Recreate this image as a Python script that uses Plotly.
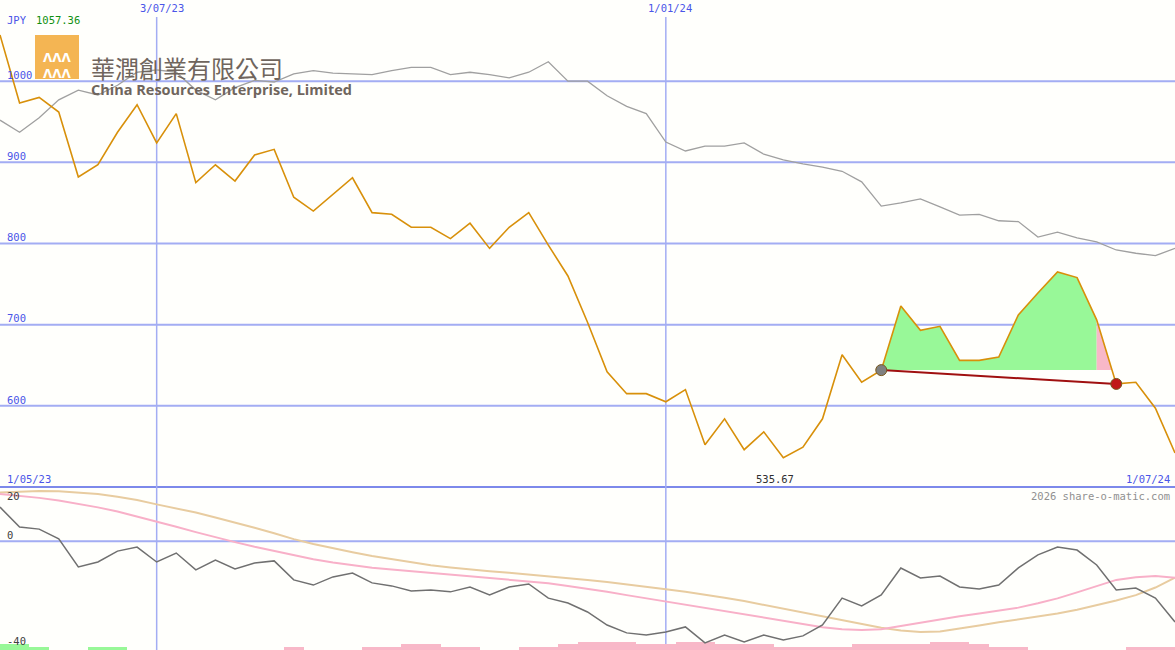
import pandas as pd
import plotly.graph_objects as go

# weekly closes, JPY
dates = pd.date_range("2023-05-08", periods=61, freq="7D")
price = [1057, 973, 980, 962, 882, 897, 937, 971, 924, 960, 875, 897, 877, 909, 916, 857,
         840, 861, 881, 838, 836, 820, 820, 806, 825, 794, 820, 838, 798, 760, 703, 642,
         615, 615, 605, 620, 552, 584, 546, 568, 536, 549, 584, 663, 629, 644, 723, 693,
         698, 656, 656, 660, 712, 739, 765, 758, 706, 627, 629, 597, 542]
# comparison index (rebased)
index_line = [952, 937, 955, 977, 989, 983, 995, 1011, 1014, 1011, 989, 977, 992, 1001, 999, 1009,
              1013, 1010, 1009, 1008, 1013, 1017, 1017, 1008, 1011, 1008, 1004, 1011, 1024, 1000, 1000, 982,
              969, 960, 925, 914, 920, 920, 924, 910, 903, 898, 894, 889, 876, 846, 850, 855,
              845, 835, 836, 828, 827, 808, 814, 807, 802, 792, 788, 785, 794]
# lower panel oscillator + averages
osc = [12.6, 5.3, 4.5, 0.9, -9.4, -7.6, -3.6, -2.1, -7.6, -4.3, -10.5, -6.9, -10.2, -8.0, -7.2, -14.2,
       -16.1, -13.1, -11.7, -15.3, -16.4, -18.3, -17.9, -18.6, -16.8, -19.7, -16.8, -15.7, -20.9, -22.7, -26.0, -30.8,
       -33.7, -34.5, -33.4, -31.5, -37.4, -34.5, -37.0, -34.5, -36.3, -34.8, -30.8, -20.9, -23.8, -19.7, -9.8, -13.5,
       -12.8, -16.8, -17.5, -16.1, -9.8, -5.0, -2.1, -3.2, -8.7, -17.9, -17.2, -20.9, -29.7]
avg_fast = [17.4, 16.8, 16.0, 15.0, 13.8, 12.5, 11.0, 9.2, 7.2, 5.4, 3.4, 1.5, -0.3, -2.0, -3.6, -5.0,
            -6.6, -7.8, -8.8, -9.7, -10.4, -11.0, -11.6, -12.2, -12.8, -13.4, -14.0, -14.6, -15.4, -16.4, -17.4, -18.6,
            -19.8, -21.0, -22.2, -23.4, -24.6, -25.8, -27.0, -28.2, -29.4, -30.6, -31.6, -32.4, -32.6, -32.4, -31.2, -29.8,
            -28.6, -27.6, -26.6, -25.6, -24.4, -22.8, -21.0, -18.8, -16.4, -14.2, -13.2, -12.8, -13.4]
avg_slow = [18.0, 18.3, 18.5, 18.4, 18.0, 17.4, 16.4, 15.2, 13.6, 12.2, 10.6, 8.8, 7.0, 5.0, 3.0, 0.8,
            -1.0, -2.6, -4.0, -5.4, -6.6, -7.8, -8.8, -9.6, -10.4, -11.0, -11.6, -12.2, -12.8, -13.4, -14.2, -15.0,
            -15.8, -16.6, -17.6, -18.6, -19.6, -20.8, -22.0, -23.4, -24.8, -26.2, -27.6, -29.0, -30.4, -31.8, -32.8, -33.4,
            -33.2, -32.2, -31.0, -29.8, -28.8, -27.8, -26.6, -25.2, -23.6, -21.8, -19.8, -17.0, -13.4]
hist = [2.2, 2.2, 1.1, 0, 0, 1.1, 1.1, 0, 0, 0, 0, 0, 0, 0, 0, -1.1,
        0, 0, 0, -1.1, -1.1, -2.2, -2.2, -1.1, -1.1, 0, 0, -1.1, -1.1, -2.2, -3.0, -3.0,
        -3.0, -2.2, -2.2, -3.0, -3.0, -2.2, -2.2, -2.2, -1.1, -1.1, -1.1, -1.1, -2.2, -2.2, -2.2, -2.2,
        -3.0, -3.0, -2.2, -1.1, -1.1, 0, 0, 0, 0, 0, -1.1, -1.1, -1.1]

neck_start, neck_end = 45, 57
neck_lo = 644

BLUE = "#4a55e8"
GRID = "#a3adf3"

fig = go.Figure()

# pattern fills
gx = list(dates[neck_start:neck_end]) + [dates[neck_end - 1], dates[neck_start]]
gy = price[neck_start:neck_end] + [neck_lo, neck_lo]
fig.add_trace(go.Scatter(x=gx, y=gy, fill="toself", fillcolor="#98f898", mode="none", hoverinfo="skip"))
frac = (price[56] - neck_lo) / (price[56] - price[57])
cross = dates[56] + (dates[57] - dates[56]) * frac
fig.add_trace(go.Scatter(x=[dates[56], cross, dates[56]], y=[price[56], neck_lo, neck_lo],
                         fill="toself", fillcolor="#f8b8c8", mode="none", hoverinfo="skip"))

fig.add_trace(go.Scatter(x=dates, y=index_line, mode="lines", line=dict(color="#a0a0a0", width=1.3)))
fig.add_trace(go.Scatter(x=dates, y=price, mode="lines", line=dict(color="#d8900a", width=1.6)))
fig.add_trace(go.Scatter(x=[dates[neck_start], dates[neck_end]], y=[neck_lo, price[neck_end]],
                         mode="lines", line=dict(color="#a01010", width=2)))
fig.add_trace(go.Scatter(x=[dates[neck_start], dates[neck_end]], y=[neck_lo, price[neck_end]],
                         mode="markers", marker=dict(size=11, color=["#808080", "#c01818"],
                                                     line=dict(color="#7a5a20", width=1))))

# lower panel
fig.add_trace(go.Bar(x=dates, y=[abs(h) for h in hist], base=-40, yaxis="y2",
                     marker=dict(color=["#98f898" if h > 0 else "#f8b8c8" for h in hist], line_width=0),
                     width=7 * 24 * 3600 * 1000))
fig.add_trace(go.Scatter(x=dates, y=avg_slow, yaxis="y2", mode="lines", line=dict(color="#e8cca0", width=2)))
fig.add_trace(go.Scatter(x=dates, y=avg_fast, yaxis="y2", mode="lines", line=dict(color="#f8b0c8", width=2)))
fig.add_trace(go.Scatter(x=dates, y=osc, yaxis="y2", mode="lines", line=dict(color="#707070", width=1.5)))

split = 1 - 487 / 650
shapes = []
for v in [600, 700, 800, 900, 1000]:
    shapes.append(dict(type="line", xref="paper", x0=0, x1=1, yref="y", y0=v, y1=v,
                       line=dict(color=GRID, width=2), layer="below"))
shapes.append(dict(type="line", xref="paper", x0=0, x1=1, yref="y2", y0=0, y1=0,
                   line=dict(color=GRID, width=2), layer="below"))
shapes.append(dict(type="line", xref="paper", x0=0, x1=1, yref="paper", y0=split, y1=split,
                   line=dict(color="#7d89ea", width=2), layer="below"))
for d in ["2023-07-03", "2024-01-01"]:
    shapes.append(dict(type="line", xref="x", x0=d, x1=d, yref="paper", y0=0, y1=1 - 17 / 650,
                       line=dict(color=GRID, width=1.5), layer="below"))
# logo block
shapes.append(dict(type="rect", xref="paper", yref="paper", x0=35 / 1175, x1=79 / 1175,
                   y0=1 - 79 / 650, y1=1 - 35 / 650, fillcolor="#f4b553", line_width=0))

mono = "DejaVu Sans Mono"
ann = []
def txt(x, y, s, color, size=11, anchor="left", family=mono, yanchor="middle"):
    ann.append(dict(xref="paper", yref="paper", x=x / 1175, y=1 - y / 650, text=s, showarrow=False,
                    xanchor=anchor, yanchor=yanchor, font=dict(family=family, size=size, color=color)))

for v, yp in [(1000, 75), (900, 156), (800, 237), (700, 318), (600, 400)]:
    txt(5, yp, str(v), BLUE, 10.5)
txt(5, 496, "20", "#404040", 10.5)
txt(5, 535, "0", "#404040", 10.5)
txt(5, 641, "-40", "#404040", 10.5)
txt(5, 20, "JPY", BLUE, 10.5)
txt(34, 20, "1057.36", "#109010", 10.5)
txt(162, 8, "3/07/23", BLUE, 10.5, "center")
txt(670, 8, "1/01/24", BLUE, 10.5, "center")
txt(5, 479, "1/05/23", BLUE, 10.5)
txt(1172, 479, "1/07/24", BLUE, 10.5, "right")
txt(775, 479, "535.67", "#303030", 10.5, "center")
txt(1172, 496, "2026 share-o-matic.com", "#909090", 10.5, "right")
txt(57, 66, "<b>ΛΛΛ<br>ΛΛΛ</b>", "white", 12, "center", "DejaVu Sans")
txt(89, 67, "華潤創業有限公司", "#6f655d", 24, "left", "Noto Sans CJK TC")
txt(89, 90, "<b>China Resources Enterprise, Limited</b>", "#6f655d", 14.5, "left", "Open Sans")

fig.update_layout(
    width=1175, height=650, margin=dict(l=0, r=0, t=0, b=0),
    paper_bgcolor="#fffffc", plot_bgcolor="#fffffc", showlegend=False, bargap=0,
    xaxis=dict(range=[dates[0], dates[-1]], visible=False),
    yaxis=dict(domain=[split, 1], range=[500, 1100], visible=False),
    yaxis2=dict(domain=[0, split], range=[-40, 20], visible=False),
    shapes=shapes, annotations=ann,
)
fig.write_html("out.html", config={"displayModeBar": False},
               post_script="document.body.style.margin='0';")
